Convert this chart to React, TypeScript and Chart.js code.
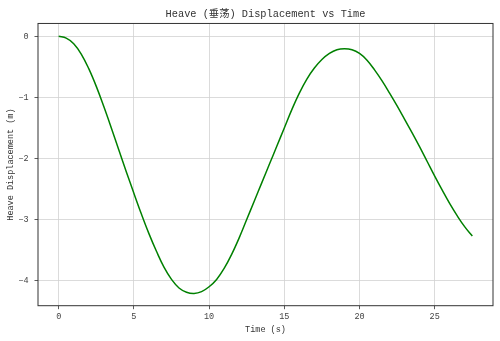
import { useEffect, useRef } from "react";
import { Chart, registerables } from "chart.js";

Chart.register(...registerables);

const time = [
  0, 0.5, 1, 1.5, 2, 2.5, 3, 3.5, 4, 4.5, 5, 5.5, 6, 6.5, 7, 7.5, 8, 8.5, 9, 9.5,
  10, 10.5, 11, 11.5, 12, 12.5, 13, 13.5, 14, 14.5, 15, 15.5, 16, 16.5, 17, 17.5,
  18, 18.5, 19, 19.5, 20, 20.5, 21, 21.5, 22, 22.5, 23, 23.5, 24, 24.5, 25, 25.5,
  26, 26.5, 27, 27.5,
];

const heave = [
  0, -0.03, -0.12, -0.29, -0.53, -0.82, -1.15, -1.5, -1.86, -2.22, -2.57, -2.91,
  -3.23, -3.52, -3.78, -3.98, -4.12, -4.19, -4.21, -4.18, -4.1, -3.98, -3.8,
  -3.57, -3.3, -3.0, -2.7, -2.4, -2.1, -1.8, -1.5, -1.2, -0.93, -0.7, -0.52,
  -0.38, -0.28, -0.22, -0.205, -0.22, -0.28, -0.39, -0.55, -0.73, -0.93, -1.14,
  -1.36, -1.58, -1.81, -2.05, -2.29, -2.52, -2.74, -2.94, -3.12, -3.27,
];

const xTicks = [0, 5, 10, 15, 20, 25];
const xTickLabels = ["0", "5", "10", "15", "20", "25"];
const yTicks = [0, -1, -2, -3, -4];
const yTickLabels = ["0", "\u22121", "\u22122", "\u22123", "\u22124"];

const titleText = "Heave (垂荡) Displacement vs Time";
const xTitle = "Time (s)";
const yTitle = "Heave Displacement (m)";

const FONT = "'Liberation Mono', 'Noto Sans CJK SC', monospace";

const framePlugin = {
  id: "frame",
  afterDraw(chart: any) {
    const { ctx, chartArea } = chart;
    const { left, top, right, bottom } = chartArea;
    ctx.save();
    ctx.strokeStyle = "#333333";
    ctx.lineWidth = 1;
    ctx.strokeRect(left, top, right - left, bottom - top);
    ctx.restore();
  },
};

export default function App() {
  const ref = useRef<HTMLCanvasElement | null>(null);

  useEffect(() => {
    document.body.style.margin = "0";
    const canvas = ref.current;
    if (!canvas) return;
    const chart = new Chart(canvas, {
      type: "line",
      data: {
        datasets: [
          {
            data: time.map((t, i) => ({ x: t, y: heave[i] })),
            borderColor: "#008000",
            borderWidth: 1.5,
            pointRadius: 0,
            fill: false,
            tension: 0.4,
          },
        ],
      },
      options: {
        animation: false,
        responsive: false,
        devicePixelRatio: 1,
        layout: { padding: { left: 0, right: 7, top: 0, bottom: 0 } },
        plugins: {
          legend: { display: false },
          tooltip: { enabled: false },
          title: {
            display: true,
            text: titleText,
            fullSize: false,
            color: "#333333",
            font: { family: FONT, size: 10.3, weight: "normal", lineHeight: 1.2 },
            padding: { top: 8.1, bottom: 3.0 },
          },
        },
        scales: {
          x: {
            type: "linear",
            min: -1.375,
            max: 28.875,
            afterBuildTicks: (s: any) => {
              s.ticks = xTicks.map((v) => ({ value: v }));
            },
            afterFit: (s: any) => {
              s.height = 35.3;
            },
            ticks: {
              autoSkip: false,
              maxRotation: 0,
              padding: 2.4,
              color: "#444444",
              font: { family: FONT, size: 8.5, lineHeight: 1.2 },
              callback: (v: any) => xTickLabels[xTicks.indexOf(Number(v))] ?? "",
            },
            grid: {
              color: "#d2d2d2",
              lineWidth: 0.8,
              tickColor: "#333333",
              tickLength: 3.5,
              drawTicks: true,
            },
            border: { display: false },
            title: {
              display: true,
              text: xTitle,
              color: "#333333",
              font: { family: FONT, size: 8.5, lineHeight: 1.2 },
              padding: { top: 0, bottom: 5.9 },
            },
          },
          y: {
            type: "linear",
            min: -4.4105,
            max: 0.2105,
            afterBuildTicks: (s: any) => {
              s.ticks = yTicks.map((v) => ({ value: v }));
            },
            afterFit: (s: any) => {
              s.width = 38;
            },
            ticks: {
              autoSkip: false,
              padding: 6,
              color: "#444444",
              font: { family: FONT, size: 8.5, lineHeight: 1.2 },
              callback: (v: any) => yTickLabels[yTicks.indexOf(Number(v))] ?? "",
            },
            grid: {
              color: "#d2d2d2",
              lineWidth: 0.8,
              tickColor: "#333333",
              tickLength: 3.5,
              drawTicks: true,
            },
            border: { display: false },
            title: {
              display: true,
              text: yTitle,
              color: "#333333",
              font: { family: FONT, size: 8.5, lineHeight: 1.2 },
              padding: { top: 5.9, bottom: 0 },
            },
          },
        },
      },
      plugins: [framePlugin],
    });
    return () => chart.destroy();
  }, []);

  return (
    <canvas
      ref={ref}
      width={500}
      height={341}
      style={{ display: "block", position: "absolute", left: 0, top: 0, width: 500, height: 341 }}
    />
  );
}
